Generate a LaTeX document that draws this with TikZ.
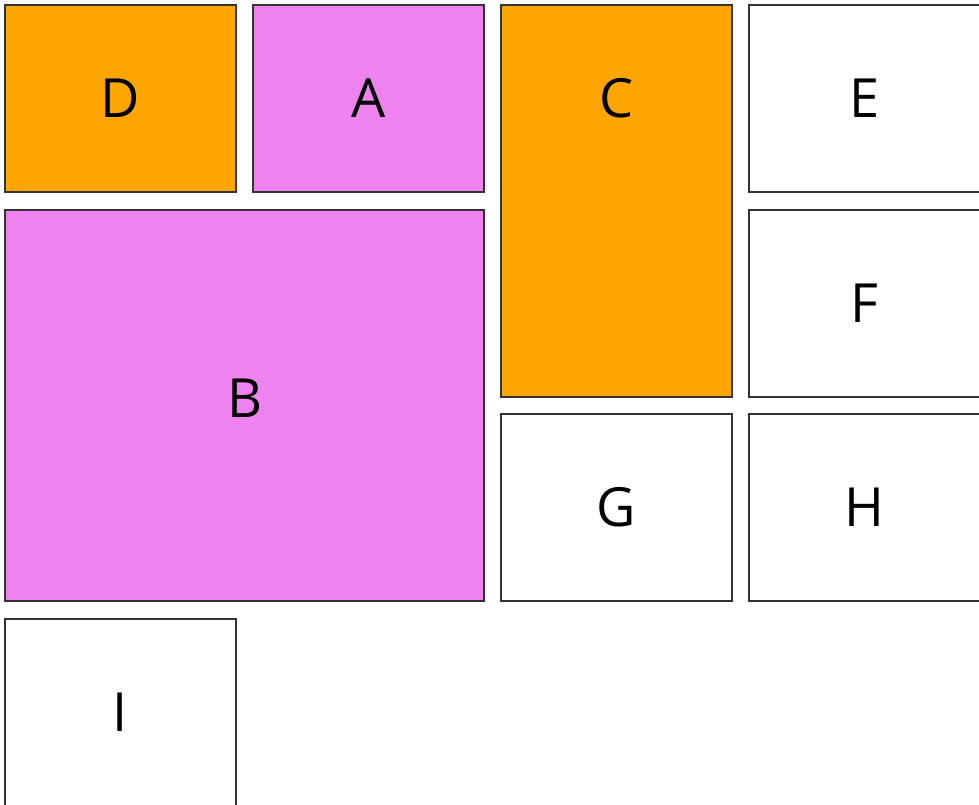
\documentclass[tikz,border=0pt]{standalone}
\usepackage{fontspec}
\setmainfont{Open Sans}
\usepackage{tikz}
\definecolor{tileorange}{HTML}{FFA500}
\definecolor{tileviolet}{HTML}{EE82EE}
\definecolor{tileline}{HTML}{333333}

\begin{document}
\begin{tikzpicture}[x=1pt, y=-1pt,
    tile/.style={draw=tileline, line width=1.3pt, fill=white, inner sep=0pt,
        minimum width=231pt, minimum height=187pt, font=\fontsize{54}{60}\selectfont},
    tilelabel/.style={font=\fontsize{54}{60}\selectfont, inner sep=0pt}]
    \useasboundingbox (0, 0) rectangle (979, 805);

    % first row
    \node (d) [tile, fill=tileorange] at (120.5, 98.5) {D};
    \node (a) [tile, fill=tileviolet] at (368.5, 98.5) {A};
    \node (c) [tile, fill=tileorange, minimum height=392pt] at (616.5, 201) {};
    \node (clabel) [tilelabel] at (616.5, 98.5) {C};
    \node (e) [tile] at (864.5, 98.5) {E};

    % big block and right column
    \node (b) [tile, fill=tileviolet, minimum width=479pt, minimum height=391pt] at (244.5, 405.5) {};
    \node (blabel) [tilelabel] at (244.5, 398.5) {B};
    \node (f) [tile] at (864.5, 303.5) {F};
    \node (g) [tile] at (616.5, 507.5) {G};
    \node (h) [tile] at (864.5, 507.5) {H};

    % last row
    \node (i) [tile] at (120.5, 712.5) {I};
\end{tikzpicture}
\end{document}
